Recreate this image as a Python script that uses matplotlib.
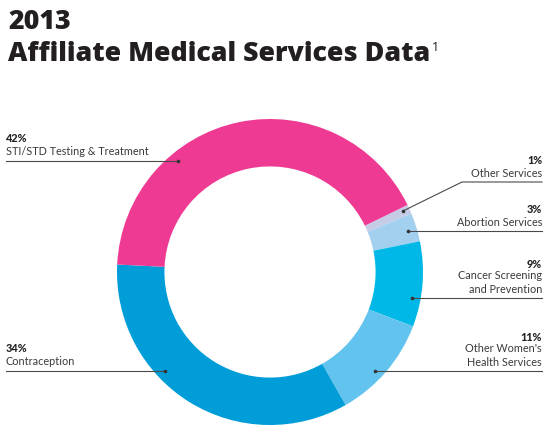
import numpy as np
import matplotlib
matplotlib.use("Agg")
import matplotlib.pyplot as plt

# 2013 affiliate medical services, share of total (%), clockwise from ~2 o'clock
services = ["Other Services", "Abortion Services", "Cancer Screening\nand Prevention",
            "Other Women's\nHealth Services", "Contraception", "STI/STD Testing & Treatment"]
shares = [1, 3, 9, 11, 34, 42]
colors = ["#c6cbe6", "#a3d0ef", "#00b8e7", "#62c4ee", "#009dd9", "#ef3a93"]

# label layout (pixel rows of the leader line, side of the chart)
line_y = [183, 232, 299, 372, 372, 162]
side = ["R", "R", "R", "R", "L", "L"]

W, H = 558, 435
cx, cy, R = 270, 273, 153
ring = 0.31
r_dot = 144

plt.rcParams["font.family"] = ["Lato", "DejaVu Sans"]

fig = plt.figure(figsize=(W / 100, H / 100), dpi=100)
ax = fig.add_axes([0, 0, 1, 1])

ax.pie(shares, colors=colors, startangle=26, counterclock=False,
       radius=R, center=(cx, H - cy),
       wedgeprops=dict(width=R * ring, linewidth=0))
ax.set_xlim(0, W)
ax.set_ylim(0, H)
ax.set_aspect("auto")
ax.axis("off")

fs = 7.8
for name, pct, ly, s in zip(services, shares, line_y, side):
    dy = cy - ly
    dx = np.sqrt(r_dot ** 2 - dy ** 2)
    lines = name.split("\n")
    if s == "L":
        x_dot = cx - dx
        ax.plot([6, x_dot], [H - ly, H - ly], color="#4a4a4a", lw=0.8)
        ax.plot([x_dot], [H - ly], "o", color="#333333", ms=1.6)
        base = ly - 7
        ax.text(6, H - base, name, fontsize=fs, color="#3a3a3a",
                ha="left", va="baseline", linespacing=1.3)
        ax.text(6, H - (base - 12.5 * len(lines)), f"{pct}%", fontsize=fs,
                fontweight="black", color="#222222", ha="left", va="baseline")
    else:
        if name == "Other Services":
            # angled leader into the thin slice
            x_dot, y_dot = 403, 212
            ax.plot([542, 462, x_dot], [H - ly, H - ly, H - y_dot],
                    color="#4a4a4a", lw=0.8)
        else:
            x_dot, y_dot = cx + dx, ly
            ax.plot([542, x_dot], [H - ly, H - ly], color="#4a4a4a", lw=0.8)
        ax.plot([x_dot], [H - y_dot], "o", color="#333333", ms=1.6)
        base = ly - 6
        ax.text(542, H - base, name, fontsize=fs, color="#3a3a3a",
                ha="right", va="baseline", linespacing=1.3, multialignment="right")
        ax.text(542, H - (base - 12.5 * len(lines)), f"{pct}%", fontsize=fs,
                fontweight="black", color="#222222", ha="right", va="baseline")

title_font = dict(family=["Open Sans", "DejaVu Sans"], fontweight=800, color="#231f20")
t0 = fig.text(8 / W, 1 - 29 / H, "2013", fontsize=20, ha="left", va="baseline", **title_font)
t = fig.text(8 / W, 1 - 61 / H, "Affiliate Medical Services Data", fontsize=20,
             ha="left", va="baseline", **title_font)

# fit the second title line to the reference width
renderer = fig.canvas.get_renderer()
bb = t.get_window_extent(renderer)
tsize = 20 * 422 / bb.width
t.set_fontsize(tsize)
t0.set_fontsize(tsize)
bb = t.get_window_extent(renderer)
fig.text((bb.x1 + 2) / W, 1 - 51 / H, "1", fontsize=9, color="#231f20",
         ha="left", va="baseline", family=["Open Sans", "DejaVu Sans"])

fig.savefig("out.png", dpi=100)
